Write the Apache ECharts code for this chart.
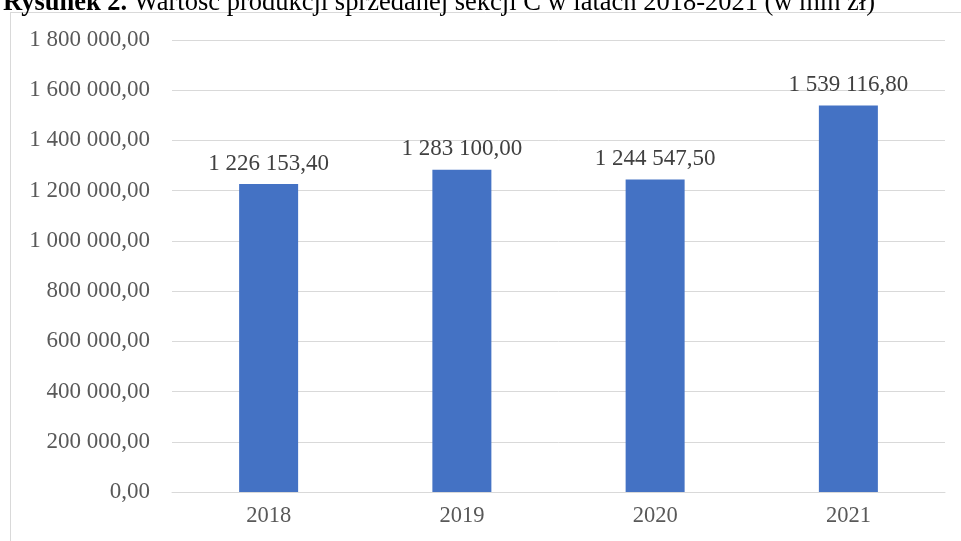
<!DOCTYPE html>
<html>
<head>
<meta charset="utf-8">
<script src="https://cdn.jsdelivr.net/npm/echarts@6/dist/echarts.min.js"></script>
<style>html,body{margin:0;padding:0;background:#fff}#c{width:961px;height:541px}</style>
</head>
<body>
<div id="c"></div>
<script>
const categories = ['2018', '2019', '2020', '2021'];
const values = [1226153.40, 1283100.00, 1244547.50, 1539116.80];
const yTicks = { min: 0, max: 1800000, interval: 200000 };

function fmt(v) {
  const parts = Number(v).toFixed(2).split('.');
  const intPart = parts[0].replace(/\B(?=(\d{3})+(?!\d))/g, ' ');
  return intPart + ',' + parts[1];
}

const chart = echarts.init(document.getElementById('c'));
const font = '"Liberation Serif", "Times New Roman", serif';
chart.setOption({
  animation: false,
  backgroundColor: '#fff',
  title: {
    text: '{b|Rysunek 2.} Wartość produkcji sprzedanej sekcji C w latach 2018-2021 (w mln zł)',
    left: -2, top: -15,
    textStyle: {
      fontFamily: font, fontSize: 26.5, fontWeight: 'normal', color: '#000',
      rich: { b: { fontFamily: font, fontSize: 26.5, fontWeight: 'bold', color: '#000' } }
    }
  },
  graphic: [
    { type: 'line', shape: { x1: 10.5, y1: 13, x2: 10.5, y2: 541 }, style: { stroke: '#d9d9d9', lineWidth: 1 } },
    { type: 'line', shape: { x1: 10, y1: 12.5, x2: 961, y2: 12.5 }, style: { stroke: '#d9d9d9', lineWidth: 1 } }
  ],
  grid: { left: 172, right: 16, top: 40, bottom: 49 },
  xAxis: {
    type: 'category', data: categories,
    axisLine: { lineStyle: { color: '#d9d9d9' } },
    axisTick: { show: false },
    axisLabel: { fontFamily: font, fontSize: 22.5, color: '#595959', margin: 13 }
  },
  yAxis: {
    type: 'value', min: yTicks.min, max: yTicks.max, interval: yTicks.interval,
    axisLine: { show: false }, axisTick: { show: false },
    splitLine: { lineStyle: { color: '#d9d9d9' } },
    axisLabel: { fontFamily: font, fontSize: 23, color: '#595959', margin: 22, formatter: fmt }
  },
  series: [{
    type: 'bar', data: values, barWidth: 59,
    itemStyle: { color: '#4472c4' },
    label: { show: true, position: 'top', distance: 9, fontFamily: font, fontSize: 23, color: '#404040', formatter: p => fmt(p.value) }
  }]
});
</script>
</body>
</html>
